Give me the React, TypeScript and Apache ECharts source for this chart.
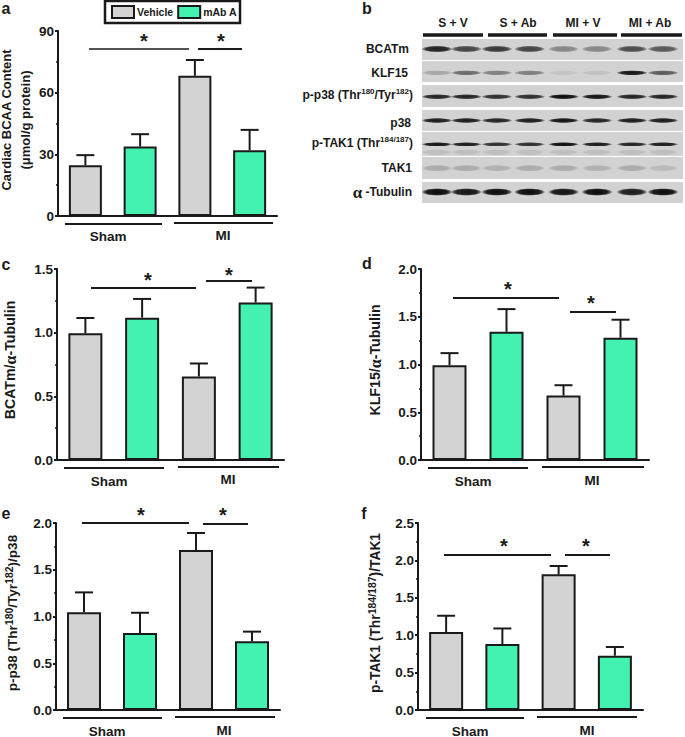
import React, { useEffect, useRef } from "react";
import * as echarts from "echarts";

const FONT = "Liberation Sans";
const INK = "#1a1a1a";
const GREY = "#d3d3d3";
const GREEN = "#43f2b0";

const categories = ["Sham Vehicle", "Sham mAb A", "MI Vehicle", "MI mAb A"];
const groupLabels = ["Sham", "MI"];
const seriesNames = ["Vehicle", "mAb A"];

const aMeans = [24.7, 33.8, 68.2, 32];
const aUppers = [29.6, 39.8, 75.9, 41.9];
const cMeans = [0.995, 1.118, 0.656, 1.236];
const cUppers = [1.115, 1.265, 0.758, 1.354];
const dMeans = [0.993, 1.343, 0.675, 1.28];
const dUppers = [1.119, 1.58, 0.783, 1.469];
const eMeans = [1.045, 0.824, 1.711, 0.734];
const eUppers = [1.258, 1.04, 1.893, 0.838];
const fMeans = [1.043, 0.882, 1.814, 0.726];
const fUppers = [1.26, 1.09, 1.925, 0.842];

// western blot (panel b): estimated band darkness per lane
const blotGroups = ["S + V", "S + Ab", "MI + V", "MI + Ab"];
const laneCentres = [0, 0.13, 0.265, 0.41, 0.56, 0.708, 0.863, 1];
const bcatm = [0.9, 0.72, 0.78, 0.72, 0.38, 0.38, 0.68, 0.62];
const klf15 = [0.22, 0.52, 0.42, 0.42, 0.07, 0.09, 0.95, 0.6];
const pp38 = [0.88, 0.88, 0.82, 0.82, 1, 0.96, 0.88, 0.88];
const p38 = [0.92, 0.92, 0.88, 0.92, 0.96, 0.88, 0.92, 0.92];
const pTak1 = [0.95, 0.92, 0.82, 0.82, 0.98, 0.92, 0.88, 0.92];
const tak1 = [0.2, 0.2, 0.17, 0.2, 0.2, 0.17, 0.2, 0.12];
const tubulin = [1, 0.96, 1, 1, 0.96, 1, 0.92, 1];
const blotRows = [bcatm, klf15, pp38, p38, pTak1, tak1, tubulin];
const bandHeights = [4.5, 3, 3, 3, 2.4, 4.5, 5.5];
const blotLabels = [
  "BCATm",
  "KLF15",
  "{t|p-p38 (Thr}{s|180}{t|/Tyr}{s|182}{t|)}",
  "p38",
  "{t|p-TAK1 (Thr}{s|184/187}{t|)}",
  "TAK1",
  "{g|α}{t| -Tubulin}",
];

const rich = (size: number, sup: number, greek: number) => ({
  t: { fontFamily: FONT, fontWeight: "bold", fontSize: size, fill: INK, lineHeight: size + 3 },
  s: { fontFamily: FONT, fontWeight: "bold", fontSize: sup, fill: INK, verticalAlign: "top", lineHeight: size + 3 },
  g: { fontFamily: "Liberation Serif", fontWeight: "bold", fontSize: greek, fill: INK, lineHeight: size + 3 },
});

const panels = [
  { means: aMeans, uppers: aUppers, max: 90, interval: 30, left: 58, top: 31, width: 219, height: 185, barW: 33,
    titleFont: [13, 9, 15],
    titles: [["{t|Cardiac BCAA Content}", 6, 120], ["{t|(μmol/g protein)}", 25, 120]],
    lines: [[89, 189, 49, 1.5], [198, 242, 49, 2]], stars: [[144, 41], [221, 41]],
    group: [[65, 162, 224], [174, 273, 223]], labels: [[108, 236], [223, 235]] },
  { means: cMeans, uppers: cUppers, max: 1.5, interval: 0.5, left: 57, top: 269, width: 227, height: 191, barW: 34,
    titleFont: [14.2, 9, 16],
    titles: [["{t|BCATm/}{g|α}{t|-Tubulin}", 10, 360]],
    lines: [[91, 196, 288, 2], [206, 252, 281, 1.8]], stars: [[148, 280], [229, 275]],
    group: [[64, 164, 468], [178, 279, 467]], labels: [[109, 481], [228, 479]] },
  { means: dMeans, uppers: dUppers, max: 2, interval: 0.5, left: 421, top: 269, width: 228, height: 191, barW: 34,
    titleFont: [14.2, 9, 16],
    titles: [["{t|KLF15/}{g|α}{t|-Tubulin}", 375, 360]],
    lines: [[453, 559, 298, 1.8], [570, 616, 312, 1.8]], stars: [[508, 289], [591, 303]],
    group: [[428, 528, 468], [542, 644, 467]], labels: [[473, 481], [592, 480]] },
  { means: eMeans, uppers: eUppers, max: 2, interval: 0.5, left: 56, top: 523, width: 224, height: 187, barW: 34,
    titleFont: [13.5, 10.5, 15],
    titles: [["{t|p-p38 (Thr}{s|180}{t|/Tyr}{s|182}{t|)/p38}", 12, 613]],
    lines: [[82, 189, 523, 1.8], [203, 248, 524, 1.8]], stars: [[141, 515], [223, 515]],
    group: [[63, 162, 718], [175, 275, 717]], labels: [[107, 731], [224, 730]] },
  { means: fMeans, uppers: fUppers, max: 2.5, interval: 0.5, left: 418, top: 523, width: 225, height: 187, barW: 34,
    titleFont: [13.8, 10.5, 15],
    titles: [["{t|p-TAK1 (Thr}{s|184/187}{t|)/TAK1}", 375, 613]],
    lines: [[444, 551, 555, 1.8], [565, 610, 555, 2]], stars: [[504, 546], [586, 546]],
    group: [[426, 524, 718], [537, 637, 717]], labels: [[470, 731], [587, 730]] },
];

const txt = (x: number, y: number, text: string, size: number, extra: any = {}) => ({
  type: "text",
  x,
  y,
  z: 5,
  rotation: extra.rotation || 0,
  style: {
    text,
    fontFamily: FONT,
    fontWeight: "bold",
    fontSize: size,
    fill: INK,
    align: extra.align || "center",
    verticalAlign: "middle",
    rich: extra.rich,
  },
});
const hline = (x1: number, x2: number, y: number, w: number) => ({
  type: "line",
  z: 5,
  shape: { x1, x2, y1: y, y2: y },
  style: { stroke: INK, lineWidth: w },
});

function buildOption() {
  const grids: any[] = [];
  const xAxes: any[] = [];
  const yAxes: any[] = [];
  const series: any[] = [];
  const graphics: any[] = [];

  panels.forEach((p, i) => {
    grids.push({ left: p.left, top: p.top, width: p.width, height: p.height, containLabel: false });
    xAxes.push({
      type: "category",
      gridIndex: i,
      data: categories,
      axisTick: { show: false },
      axisLabel: { show: false },
      axisLine: { lineStyle: { color: INK, width: 2 } },
    });
    yAxes.push({
      type: "value",
      gridIndex: i,
      min: 0,
      max: p.max,
      interval: p.interval,
      splitLine: { show: false },
      axisLine: { show: true, lineStyle: { color: INK, width: 2 } },
      axisTick: { show: true, length: 3, lineStyle: { color: INK, width: 2 } },
      minorTick: { show: true, splitNumber: 2, length: 2, lineStyle: { color: INK, width: 1.5 } },
      axisLabel: {
        margin: 4,
        fontFamily: FONT,
        fontWeight: "bold",
        fontSize: 13.5,
        color: INK,
        formatter: (v: number) => (p.interval < 1 ? v.toFixed(1) : String(v)),
      },
    });
    seriesNames.forEach((name, s) => {
      series.push({
        type: "bar",
        name,
        xAxisIndex: i,
        yAxisIndex: i,
        barWidth: p.barW,
        barGap: "-100%",
        data: p.means.map((v, k) => (k % 2 === s ? v : null)),
        itemStyle: { color: s === 0 ? GREY : GREEN, borderColor: INK, borderWidth: 2 },
      });
    });
    series.push({
      type: "custom",
      xAxisIndex: i,
      yAxisIndex: i,
      z: 1,
      silent: true,
      data: p.means.map((m, k) => [k, m, p.uppers[k]]),
      renderItem: (_: any, api: any) => {
        const low = api.coord([api.value(0), api.value(1)]);
        const up = api.coord([api.value(0), api.value(2)]);
        const st = { stroke: INK, lineWidth: 2 };
        return {
          type: "group",
          children: [
            { type: "line", shape: { x1: low[0], y1: low[1], x2: up[0], y2: up[1] }, style: st },
            { type: "line", shape: { x1: up[0] - 9, y1: up[1], x2: up[0] + 9, y2: up[1] }, style: st },
          ],
        };
      },
    });
    p.lines.forEach((l) => graphics.push(hline(l[0], l[1], l[2], l[3])));
    p.stars.forEach((s) => graphics.push(txt(s[0], s[1], "*", 20)));
    p.group.forEach((g) => graphics.push(hline(g[0], g[1], g[2], 2)));
    p.labels.forEach((l, k) => graphics.push(txt(l[0], l[1], groupLabels[k], 13.5)));
    p.titles.forEach((t: any) =>
      graphics.push(
        txt(t[1], t[2], t[0], p.titleFont[0], {
          rotation: Math.PI / 2,
          rich: rich(p.titleFont[0], p.titleFont[1], p.titleFont[2]),
        })
      )
    );
  });

  // Panel b: western blot drawn as a custom series over lane / row scales
  const blotIndex = panels.length;
  grids.push({ left: 437, top: 49, width: 226, height: 143 });
  xAxes.push({ type: "value", gridIndex: blotIndex, min: 0, max: 1, show: false });
  yAxes.push({ type: "value", gridIndex: blotIndex, min: 0, max: 6, inverse: true, show: false });
  const bandData: any[] = [];
  blotRows.forEach((row, r) =>
    row.forEach((dark, l) => {
      bandData.push([laneCentres[l], r, dark, bandHeights[r]]);
      if (r === 4) bandData.push([laneCentres[l], r + 0.33, 0.1, 4]);
    })
  );
  series.push({
    type: "custom",
    xAxisIndex: blotIndex,
    yAxisIndex: blotIndex,
    silent: true,
    clip: false,
    data: bandData,
    renderItem: (_: any, api: any) => {
      const c = api.coord([api.value(0), api.value(1)]);
      const a = api.value(2);
      const h = api.value(3);
      return {
        type: "ellipse",
        shape: { cx: c[0], cy: c[1], rx: 15.5, ry: h / 2 + 1 },
        style: {
          fill: new echarts.graphic.RadialGradient(0.5, 0.5, 0.5, [
            { offset: 0, color: `rgba(10,10,10,${a})` },
            { offset: 0.7, color: `rgba(10,10,10,${a * 0.9})` },
            { offset: 0.9, color: `rgba(10,10,10,${a * 0.4})` },
            { offset: 1, color: "rgba(10,10,10,0)" },
          ]),
        },
      };
    },
  });

  const rowBoxes = [[39, 21], [61, 21], [85, 22], [110, 21], [132, 24], [157, 22], [182, 21]];
  rowBoxes.forEach((b) =>
    graphics.push({
      type: "rect",
      z: -1,
      shape: { x: 422, y: b[0], width: 261, height: b[1] },
      style: { fill: "#d2d2d2" },
    })
  );
  const labelYs = [49, 73, 95, 123, 143, 168, 192];
  const labelXs = [409, 408, 413, 411, 413, 412, 412];
  blotLabels.forEach((t, i) => graphics.push(txt(labelXs[i], labelYs[i], t, 12, { align: "right", rich: rich(12, 8, 17) })));
  const headerXs = [453, 518, 583, 650];
  blotGroups.forEach((t, i) => graphics.push(txt(headerXs[i], 23, t, 12)));
  [[423, 483], [488, 547], [553, 617], [621, 682]].forEach((b) => graphics.push(hline(b[0], b[1], 35, 3.5)));

  [["a", 6, 8], ["b", 367, 8], ["c", 6, 264], ["d", 367, 263], ["e", 6, 513], ["f", 364, 513]].forEach((l: any) =>
    graphics.push(txt(l[1], l[2], l[0], 16))
  );

  return {
    animation: false,
    backgroundColor: "#ffffff",
    grid: grids,
    xAxis: xAxes,
    yAxis: yAxes,
    series,
    graphic: graphics,
    legend: {
      left: 105,
      top: 1,
      icon: "rect",
      data: seriesNames,
      orient: "horizontal",
      itemWidth: 22,
      itemHeight: 12,
      itemGap: 4,
      padding: [4, 3, 4, 6],
      borderColor: INK,
      borderWidth: 2.5,
      selectedMode: false,
      textStyle: { fontFamily: FONT, fontWeight: "bold", fontSize: 10.5, color: INK, padding: [0, 0, 0, -2] },
    },
  };
}

export default function App() {
  const ref = useRef<HTMLDivElement>(null);
  useEffect(() => {
    document.body.style.margin = "0";
    const chart = echarts.init(ref.current!, undefined, { renderer: "svg" });
    chart.setOption(buildOption() as any);
    return () => chart.dispose();
  }, []);
  return <div ref={ref} style={{ width: 685, height: 737 }} />;
}
